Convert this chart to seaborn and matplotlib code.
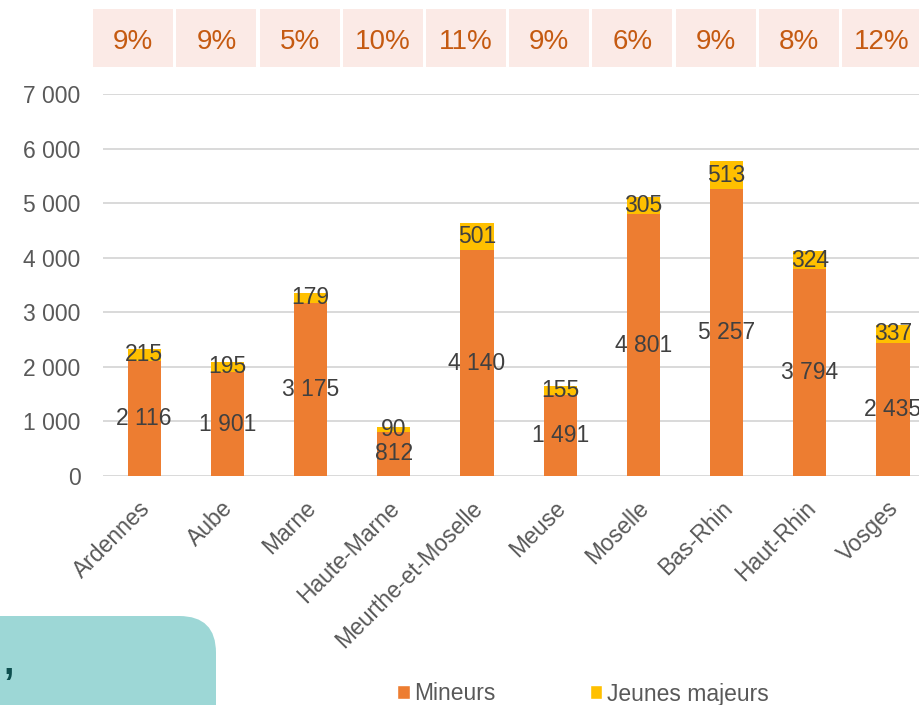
import pandas as pd
import matplotlib.pyplot as plt
import seaborn as sns
from matplotlib.patches import Rectangle, FancyBboxPatch, Patch
from matplotlib.transforms import blended_transform_factory, ScaledTranslation

departements = ["Ardennes", "Aube", "Marne", "Haute-Marne", "Meurthe-et-Moselle",
                "Meuse", "Moselle", "Bas-Rhin", "Haut-Rhin", "Vosges"]
mineurs = [2116, 1901, 3175, 812, 4140, 1491, 4801, 5257, 3794, 2435]
jeunes_majeurs = [215, 195, 179, 90, 501, 155, 305, 513, 324, 337]
part_jeunes = ["9%", "9%", "5%", "10%", "11%", "9%", "6%", "9%", "8%", "12%"]

ORANGE = "#ED7D31"
YELLOW = "#FFC000"
GREY_TXT = "#595959"
LABEL_TXT = "#404040"

sns.set_theme(style="white")
plt.rcParams["font.family"] = ["Liberation Sans", "DejaVu Sans"]

df = pd.DataFrame({"dep": departements, "mineurs": mineurs, "jeunes": jeunes_majeurs})
df["total"] = df["mineurs"] + df["jeunes"]

fig = plt.figure(figsize=(9.2, 7.05), dpi=100)
ax = fig.add_axes([102.6 / 920, 229 / 705, 832 / 920, 382 / 705])

# stacked bars: total in yellow, mineurs drawn over it in orange
sns.barplot(data=df, x="dep", y="total", color=YELLOW, width=0.4, ax=ax,
            saturation=1, linewidth=0, zorder=3)
sns.barplot(data=df, x="dep", y="mineurs", color=ORANGE, width=0.4, ax=ax,
            saturation=1, linewidth=0, zorder=3)

ax.set_xlim(-0.5, 9.5)
ax.set_ylim(0, 7000)
ax.set_yticks(range(0, 7001, 1000))
ax.set_yticklabels([f"{v:,}".replace(",", " ") for v in range(0, 7001, 1000)])
ax.yaxis.grid(True, color="#D9D9D9", linewidth=1.4, zorder=0)
ax.set_axisbelow(True)
for s in ax.spines.values():
    s.set_visible(False)
ax.tick_params(axis="y", length=0, labelsize=16.5, labelcolor=GREY_TXT, pad=16)
ax.tick_params(axis="x", length=0, labelsize=16.5, labelcolor=GREY_TXT, pad=15)
shift = ScaledTranslation(-6 / 100, 0, fig.dpi_scale_trans)
for lab in ax.get_xticklabels():
    lab.set_rotation(45)
    lab.set_ha("right")
    lab.set_rotation_mode("anchor")
    lab.set_transform(lab.get_transform() + shift)
ax.set_xlabel("")
ax.set_ylabel("")

# value labels
for i, (m, j) in enumerate(zip(mineurs, jeunes_majeurs)):
    ax.text(i, m / 2, f"{m:,}".replace(",", " "), ha="center", va="center",
            fontsize=16.5, color=LABEL_TXT, zorder=5)
    ax.text(i, m + j / 2, f"{j}", ha="center", va="center",
            fontsize=16.5, color=LABEL_TXT, zorder=5)

# percentage strip above the chart
trans = blended_transform_factory(ax.transData, ax.transAxes)
for i, p in enumerate(part_jeunes):
    ax.add_patch(Rectangle((i - 0.613, 1.0707), 0.962, 0.152, transform=trans,
                           facecolor="#FBEAE6", edgecolor="none", clip_on=False))
    ax.text(i - 0.132, 1.136, p, transform=trans, ha="center", va="center",
            fontsize=20, color="#C55A11", clip_on=False)

# legend
handles = [Patch(facecolor=ORANGE, label="Mineurs"),
           Patch(facecolor=YELLOW, label="Jeunes majeurs")]
fig.legend(handles=handles, loc="center left", bbox_to_anchor=(397 / 920, 1 - 694 / 705),
           ncol=2, frameon=False, fontsize=16.5, labelcolor=GREY_TXT,
           handlelength=0.55, handleheight=0.55, handletextpad=0.2,
           columnspacing=4.1, borderpad=0, borderaxespad=0)

# teal box cut at the bottom-left corner
fig.patches.append(FancyBboxPatch((-40 / 920, -40 / 705), 256 / 920, 129 / 705,
                                  boxstyle="round,pad=0,rounding_size=0.04",
                                  transform=fig.transFigure, facecolor="#9DD7D6",
                                  edgecolor="none", mutation_aspect=920 / 705))
fig.text(3 / 920, 1 - 664 / 705, ",", fontsize=27, fontweight="bold",
         color="#0E4F4F", ha="left", va="center")

fig.savefig("out.png", dpi=100)
